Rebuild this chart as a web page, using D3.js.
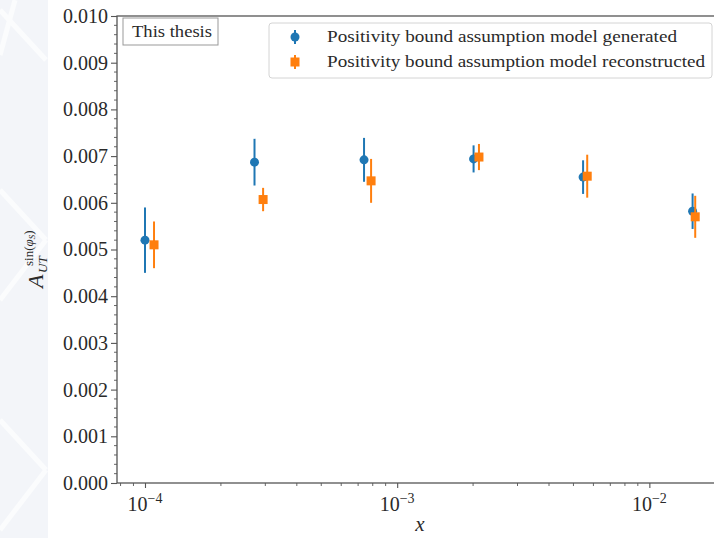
<!DOCTYPE html>
<html><head><meta charset="utf-8">
<script src="https://cdn.jsdelivr.net/npm/d3@7"></script>
<style>html,body{margin:0;padding:0;background:#fff;} svg{display:block;}</style>
</head><body>
<svg id="c" width="714" height="538"></svg>
<script>
// ---- data ----
const genX   = [1.0e-4, 2.718e-4, 7.389e-4, 2.009e-3, 5.46e-3, 1.484e-2];
const genY   = [0.00520, 0.00687, 0.00692, 0.00694, 0.00655, 0.00582];
const genErr = [0.00070, 0.00050, 0.00047, 0.00029, 0.00036, 0.00038];
const recX   = [1.086e-4, 2.94e-4, 7.88e-4, 2.11e-3, 5.67e-3, 1.52e-2];
const recY   = [0.00510, 0.00607, 0.00647, 0.00698, 0.00657, 0.00570];
const recErr = [0.00050, 0.00025, 0.00047, 0.00028, 0.00046, 0.00045];
const yTicks = [0,0.001,0.002,0.003,0.004,0.005,0.006,0.007,0.008,0.009,0.010];
const xTicks = [1e-4, 1e-3, 1e-2];
const xTickExp = ["\u22124", "\u22123", "\u22122"];
const seriesNames = ["Positivity bound assumption model generated", "Positivity bound assumption model reconstructed"];
const colors = ["#1f77b4", "#ff7f0e"];

const svg = d3.select("#c");
const FONT = "'Liberation Serif', 'DejaVu Serif', serif";
const TXT = "#2a2a2a";

// faint background strip on the left
const bg = svg.append("g");
bg.append("rect").attr("x",0).attr("y",0).attr("width",48).attr("height",538).attr("fill","#f3f5f9");
[[15,0,0,55],[0,190,46,240],[46,240,0,300],[0,10,46,60],[0,420,46,470],[46,470,0,530]].forEach(l=>{
  bg.append("line").attr("x1",l[0]).attr("y1",l[1]).attr("x2",l[2]).attr("y2",l[3])
    .attr("stroke","#fbfcfd").attr("stroke-width",5);
});

const L = 117, R = 723, T = 16, B = 483;
const x = d3.scaleLog().domain([Math.pow(10,-4.111), Math.pow(10,-1.708)]).range([L, R]);
const y = d3.scaleLinear().domain([0, 0.010]).range([B, T]);

svg.append("rect").attr("x",L).attr("y",T).attr("width",R-L).attr("height",B-T).attr("fill","#fff");

const axisColor = "#555";
// y axis
const yAxis = d3.axisLeft(y).tickValues(yTicks).tickFormat(d3.format(".3f")).tickSize(6).tickPadding(3);
const gy = svg.append("g").attr("transform",`translate(${L},0)`).call(yAxis);
const yMinor = d3.range(0, 0.01001, 0.0002).filter(v=>Math.abs(v/0.001-Math.round(v/0.001))>1e-6);
gy.selectAll(".minor").data(yMinor).enter().append("line")
  .attr("x1",0).attr("x2",-3).attr("y1",d=>y(d)).attr("y2",d=>y(d)).attr("stroke",axisColor).attr("stroke-width",0.9);
gy.select(".domain").remove();
gy.selectAll(".tick line").attr("stroke",axisColor).attr("stroke-width",1.1);
gy.selectAll(".tick text").attr("font-family",FONT).attr("font-size","20px").attr("fill",TXT);

// x axis
const xAxis = d3.axisBottom(x).tickValues(xTicks).tickSize(5).tickFormat("");
const gx = svg.append("g").attr("transform",`translate(0,${B})`).call(xAxis);
gx.select(".domain").remove();
gx.selectAll(".tick line").attr("stroke",axisColor).attr("stroke-width",1.1);
const xMinor = [];
[-5,-4,-3,-2].forEach(e=>{ for(let m=2;m<=9;m++){ const v=m*Math.pow(10,e); if(x(v)>=L && x(v)<=R) xMinor.push(v);} });
gx.selectAll(".minor").data(xMinor).enter().append("line")
  .attr("x1",d=>x(d)).attr("x2",d=>x(d)).attr("y1",0).attr("y2",3).attr("stroke",axisColor).attr("stroke-width",0.9);
xTicks.forEach((t,i)=>{
  const tx = gx.append("text").attr("x",x(t)).attr("y",28).attr("text-anchor","middle")
    .attr("font-family",FONT).attr("fill",TXT);
  tx.append("tspan").attr("font-size","20px").text("10");
  tx.append("tspan").attr("font-size","14px").attr("dy",-8).text(xTickExp[i]);
});

// spines
svg.append("rect").attr("x",L).attr("y",T).attr("width",R-L).attr("height",B-T)
  .attr("fill","none").attr("stroke",axisColor).attr("stroke-width",1.3);

// axis labels
svg.append("text").attr("x",(L+R)/2).attr("y",531).attr("text-anchor","middle")
  .attr("font-family",FONT).attr("font-style","italic").attr("font-size","21px").attr("fill",TXT).text("x");
const yl = svg.append("g").attr("transform","translate(43,288) rotate(-90)");
yl.append("text").attr("x",0).attr("y",0).attr("font-family",FONT).attr("font-style","italic")
  .attr("font-size","22px").attr("fill",TXT).text("A");
yl.append("text").attr("x",15).attr("y",4).attr("font-family",FONT).attr("font-style","italic")
  .attr("font-size","13px").attr("fill",TXT).text("UT");
const sup = yl.append("text").attr("x",22).attr("y",-10).attr("font-family",FONT)
  .attr("font-size","13px").attr("fill",TXT);
sup.append("tspan").text("sin(");
sup.append("tspan").attr("font-style","italic").text("\u03c6");
sup.append("tspan").attr("font-style","italic").attr("font-size","9px").attr("dy",2).text("S");
sup.append("tspan").attr("dy",-2).text(")");

// data series
const series = [
  {xs: genX, ys: genY, es: genErr, c: colors[0], shape: "circle"},
  {xs: recX, ys: recY, es: recErr, c: colors[1], shape: "square"}
];
series.forEach(s=>{
  const g = svg.append("g");
  const pts = s.xs.map((v,i)=>({x:v, y:s.ys[i], e:s.es[i]}));
  g.selectAll("line.err").data(pts).enter().append("line")
    .attr("x1",d=>x(d.x)).attr("x2",d=>x(d.x)).attr("y1",d=>y(d.y-d.e)).attr("y2",d=>y(d.y+d.e))
    .attr("stroke",s.c).attr("stroke-width",2);
  if (s.shape==="circle") {
    g.selectAll("circle").data(pts).enter().append("circle")
      .attr("cx",d=>x(d.x)).attr("cy",d=>y(d.y)).attr("r",4.5).attr("fill",s.c);
  } else {
    g.selectAll("rect").data(pts).enter().append("rect")
      .attr("x",d=>x(d.x)-4.5).attr("y",d=>y(d.y)-4.5).attr("width",9).attr("height",9).attr("fill",s.c);
  }
});

// "This thesis" box
svg.append("rect").attr("x",123).attr("y",18).attr("width",95).attr("height",27)
  .attr("fill","#fff").attr("stroke","#999").attr("stroke-width",1);
svg.append("text").attr("x",132).attr("y",37).attr("font-family",FONT).attr("font-size","16px")
  .attr("fill",TXT).attr("textLength",80).attr("lengthAdjust","spacingAndGlyphs").text("This thesis");

// legend
const lg = svg.append("g");
lg.append("rect").attr("x",269).attr("y",23).attr("width",443).attr("height",55).attr("rx",3)
  .attr("fill","#fff").attr("fill-opacity",0.85).attr("stroke","#d4d4d4").attr("stroke-width",1);
const legW = [350, 378];
series.forEach((s,i)=>{
  const cy = 37 + i*25;
  lg.append("line").attr("x1",295).attr("x2",295).attr("y1",cy-7).attr("y2",cy+7).attr("stroke",s.c).attr("stroke-width",2);
  if (s.shape==="circle") lg.append("circle").attr("cx",295).attr("cy",cy).attr("r",4.5).attr("fill",s.c);
  else lg.append("rect").attr("x",290.5).attr("y",cy-4.5).attr("width",9).attr("height",9).attr("fill",s.c);
  lg.append("text").attr("x",327).attr("y",cy+5).attr("font-family",FONT).attr("font-size","16px")
    .attr("fill",TXT).attr("textLength",legW[i]).attr("lengthAdjust","spacingAndGlyphs").text(seriesNames[i]);
});
</script>
</body></html>
